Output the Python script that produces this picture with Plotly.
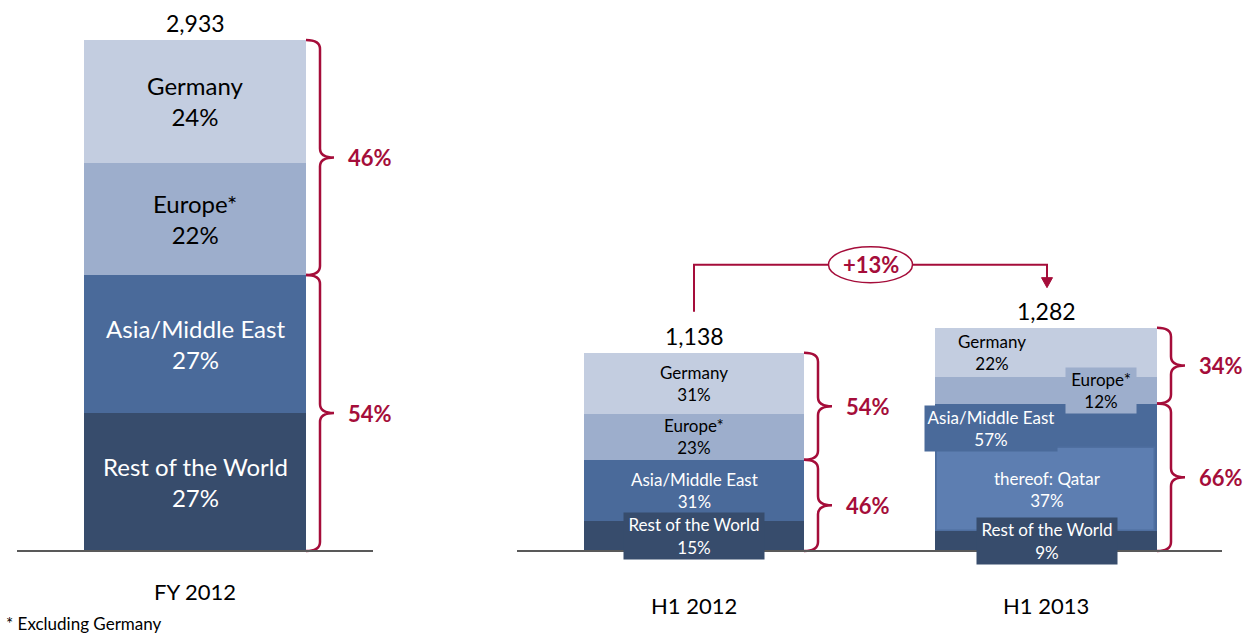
import plotly.graph_objects as go

# ---------------- data ----------------
periods = ["FY 2012", "H1 2012", "H1 2013"]
totals = [2933, 1138, 1282]
totals_text = ["2,933", "1,138", "1,282"]
regions = ["Germany", "Europe*", "Asia/Middle East", "Rest of the World"]
share_germany = [24, 31, 22]
share_europe = [22, 23, 12]
share_asia = [27, 31, 57]
share_row = [27, 15, 9]
qatar_label = "thereof: Qatar"
share_qatar_h1_2013 = 37
group_upper = [46, 54, 34]   # Germany + Europe
group_lower = [54, 46, 66]   # Asia/Middle East + Rest of the World
growth_label = "+13%"
footnote = "* Excluding Germany"

# ---------------- layout constants ----------------
W, H = 1246, 633
Y_RANGE = [-471, 3163]
K = H / (Y_RANGE[1] - Y_RANGE[0])          # pixels per data unit
BAR_X = [195, 694, 1046]
BAR_W = [222, 220, 222]
FONT = "Lato"
RED = "#a50d3a"
C_GER, C_EUR, C_ASIA, C_ROW, C_QAT = "#c3cde0", "#9daecc", "#4a6a9a", "#374c6c", "#5d7eb1"
AXIS_C = "#595959"

def px(p):
    return p / K

vals = {
    "row": [t * s / 100 for t, s in zip(totals, share_row)],
    "asia": [t * s / 100 for t, s in zip(totals, share_asia)],
    "eur": [t * s / 100 for t, s in zip(totals, share_europe)],
    "ger": [t * s / 100 for t, s in zip(totals, share_germany)],
}
order = ["row", "asia", "eur", "ger"]
colors = {"row": C_ROW, "asia": C_ASIA, "eur": C_EUR, "ger": C_GER}
names = {"ger": regions[0], "eur": regions[1], "asia": regions[2], "row": regions[3]}
shares = {"ger": share_germany, "eur": share_europe, "asia": share_asia, "row": share_row}

bases = {}
cum = [0, 0, 0]
for key in order:
    bases[key] = list(cum)
    cum = [c + v for c, v in zip(cum, vals[key])]

fig = go.Figure()
for key in order:
    fig.add_trace(go.Bar(
        x=BAR_X, y=vals[key], base=bases[key], width=BAR_W,
        marker=dict(color=colors[key], line=dict(width=0)),
        name=names[key], hoverinfo="skip", showlegend=False))

# Qatar inner block (H1 2013)
qatar_val = totals[2] * share_qatar_h1_2013 / 100
fig.add_trace(go.Bar(
    x=[BAR_X[2]], y=[qatar_val], base=[vals["row"][2]], width=[BAR_W[2] - 4],
    marker=dict(color=C_QAT, line=dict(color="#4f6fa0", width=1.5)),
    hoverinfo="skip", showlegend=False))

ann = []

def text_ann(x, y, text, size, color, bold=False, **kw):
    d = dict(x=x, y=y, xref="x", yref="y", text=("<b>%s</b>" % text) if bold else text,
             showarrow=False, font=dict(family=FONT, size=size, color=color))
    d.update(kw)
    return d

# segment labels: FY 2012 and H1 2012 centred
for i, size in [(0, 24), (1, 17)]:
    for key in order:
        mid = bases[key][i] + vals[key][i] / 2
        col = "white" if key in ("row", "asia") else "black"
        extra = {}
        if i == 1 and key == "row":
            extra = dict(bgcolor=C_ROW, width=140, height=46, borderpad=0)
        ann.append(text_ann(BAR_X[i], mid, "%s<br>%d%%" % (names[key], shares[key][i]),
                            size, col, yanchor="middle", **extra))

# H1 2013 labels
i = 2
mid_ger = bases["ger"][i] + vals["ger"][i] / 2
ann.append(text_ann(BAR_X[i] - 54, mid_ger, "%s<br>%d%%" % (names["ger"], share_germany[i]),
                    17, "black", yanchor="middle"))
mid_eur = bases["eur"][i] + vals["eur"][i] / 2
ann.append(text_ann(BAR_X[i] + 55, mid_eur, "%s<br>%d%%" % (names["eur"], share_europe[i]),
                    17, "black", yanchor="middle", bgcolor=C_EUR, width=70, height=45, borderpad=0))
top_asia = bases["asia"][i] + vals["asia"][i]
ann.append(text_ann(BAR_X[i] - 55, top_asia, "%s<br>%d%%" % (names["asia"], share_asia[i]),
                    17, "white", yanchor="top", yshift=-1, bgcolor=C_ASIA, width=132, height=45, borderpad=0))
mid_q = vals["row"][i] + qatar_val / 2
ann.append(text_ann(BAR_X[i] + 1, mid_q, "%s<br>%d%%" % (qatar_label, share_qatar_h1_2013),
                    17, "white", yanchor="middle"))
mid_row = vals["row"][i] / 2
ann.append(text_ann(BAR_X[i] + 1, mid_row, "%s<br>%d%%" % (names["row"], share_row[i]),
                    17, "white", yanchor="middle", bgcolor=C_ROW, width=140, height=46, borderpad=0))

# totals
for i in range(3):
    ann.append(text_ann(BAR_X[i], totals[i], totals_text[i], 23, "black",
                        yanchor="middle", yshift=17))

# category labels
for i, sh in zip(range(3), [-41, -55, -55]):
    ann.append(text_ann(BAR_X[i], 0, periods[i], 22, "black", yanchor="middle", yshift=sh))

# footnote
ann.append(dict(x=0.003, y=1 - 623 / H, xref="paper", yref="paper", xanchor="left",
                yanchor="middle", text=footnote, showarrow=False,
                font=dict(family=FONT, size=17, color="black")))

shapes = []

def brace(xl, ytop, ybot):
    xv, xt = xl + 14, xl + 28
    r = px(9)
    ym = (ytop + ybot) / 2
    return ("M %f,%f Q %f,%f %f,%f L %f,%f Q %f,%f %f,%f Q %f,%f %f,%f L %f,%f Q %f,%f %f,%f" % (
        xl, ytop, xv, ytop, xv, ytop - r,
        xv, ym + r, xv, ym, xt, ym,
        xv, ym, xv, ym - r,
        xv, ybot + r, xv, ybot, xl, ybot))

for i in range(3):
    xr = BAR_X[i] + BAR_W[i] / 2
    split = bases["eur"][i]
    top = totals[i]
    for (yt, yb, lab) in [(top, split, group_upper[i]), (split, 0, group_lower[i])]:
        shapes.append(dict(type="path", xref="x", yref="y", path=brace(xr, yt, yb),
                           line=dict(color=RED, width=2.5), layer="above"))
        ann.append(text_ann(xr + 40, (yt + yb) / 2, "%d%%" % lab, 22, RED, bold=True,
                            xanchor="left", yanchor="middle"))

# baselines
shapes.append(dict(type="line", xref="x", yref="y", x0=17, x1=373, y0=0, y1=0,
                   line=dict(color=AXIS_C, width=2), layer="above"))
shapes.append(dict(type="line", xref="x", yref="y", x0=517, x1=1222, y0=0, y1=0,
                   line=dict(color=AXIS_C, width=2), layer="above"))

# growth connector
y_start = totals[1] + px(41)
y_h = totals[2] + px(63)
y_tip = totals[2] + px(40)
xa, xb = BAR_X[1], BAR_X[2] + 1
shapes.append(dict(type="path", xref="x", yref="y",
                   path="M %f,%f L %f,%f L %f,%f L %f,%f" % (xa, y_start, xa, y_h, xb, y_h, xb, y_tip + px(8)),
                   line=dict(color=RED, width=2)))
shapes.append(dict(type="path", xref="x", yref="y",
                   path="M %f,%f L %f,%f L %f,%f Z" % (xb - 5.5, y_tip + px(10), xb + 5.5, y_tip + px(10), xb, y_tip),
                   fillcolor=RED, line=dict(color=RED, width=1)))
xc = (xa + xb) / 2
shapes.append(dict(type="circle", xref="x", yref="y", x0=xc - 42, x1=xc + 42,
                   y0=y_h - px(18), y1=y_h + px(18), fillcolor="white",
                   line=dict(color=RED, width=1.5)))
ann.append(text_ann(xc, y_h, growth_label, 22, RED, bold=True, yanchor="middle"))

fig.update_layout(
    width=W, height=H, autosize=False,
    margin=dict(l=0, r=0, t=0, b=0),
    paper_bgcolor="white", plot_bgcolor="white",
    barmode="overlay", bargap=0,
    xaxis=dict(range=[0, W], visible=False, fixedrange=True),
    yaxis=dict(range=Y_RANGE, visible=False, fixedrange=True),
    shapes=shapes, annotations=ann, showlegend=False,
)

fig.write_html("out.html")
